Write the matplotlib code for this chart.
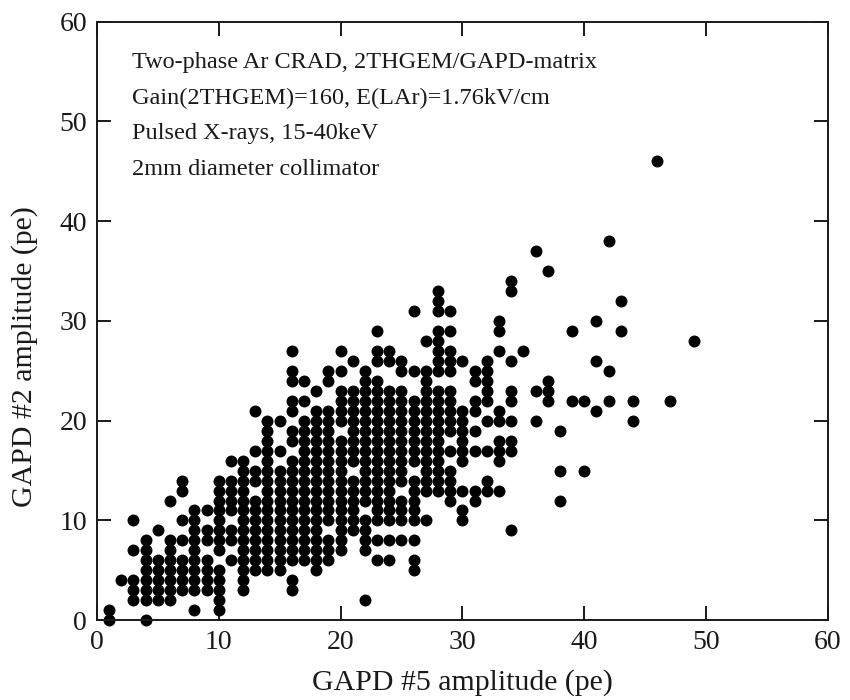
import numpy as np
import matplotlib
matplotlib.use("Agg")
from matplotlib import pyplot as plt

# GAPD #5 amplitude (x column) and the GAPD #2 amplitudes seen at that column
gapd5 = [1, 2, 3, 4, 5, 6, 7, 8, 9, 10,
         11, 12, 13, 14, 15, 16, 17, 18, 19, 20,
         21, 22, 23, 24, 25, 26, 27, 28, 29, 30,
         31, 32, 33, 34, 35, 36, 37, 38, 39, 40,
         41, 42, 43, 44, 46, 47, 49]

gapd2 = [
    [0, 1],
    [4],
    [2, 3, 4, 7, 10],
    [0, 2, 3, 4, 5, 6, 7, 8],
    [2, 3, 4, 5, 6, 9],
    [2, 3, 4, 5, 6, 7, 8, 12],
    [3, 4, 5, 6, 8, 10, 13, 14],
    [1, 3, 4, 5, 6, 7, 8, 9, 10, 11],
    [3, 4, 5, 6, 8, 9, 11],
    [1, 2, 3, 4, 5, 7, 8, 9, 10, 11, 12, 13, 14],
    [6, 8, 9, 11, 12, 13, 14, 16],
    [3, 4, 5, 6, 7, 8, 9, 10, 11, 12, 13, 14, 15, 16],
    [5, 6, 7, 8, 9, 10, 11, 12, 14, 15, 17, 21],
    [5, 6, 7, 8, 9, 10, 11, 12, 13, 14, 15, 16, 17, 18, 19, 20],
    [5, 6, 7, 8, 9, 10, 11, 12, 13, 14, 15, 17, 20],
    [3, 4, 6, 7, 8, 9, 10, 11, 12, 13, 14, 15, 16, 18, 19, 21, 22, 24, 25, 27],
    [6, 7, 8, 9, 10, 11, 12, 13, 14, 15, 16, 17, 18, 19, 20, 22, 24],
    [5, 6, 7, 8, 9, 10, 11, 12, 13, 14, 15, 16, 17, 18, 19, 20, 21, 23],
    [6, 7, 8, 10, 11, 12, 13, 14, 15, 16, 17, 18, 19, 20, 21, 24, 25],
    [7, 8, 9, 10, 11, 12, 13, 14, 15, 16, 17, 18, 20, 21, 22, 23, 25, 27],
    [9, 10, 11, 12, 13, 14, 16, 17, 18, 19, 20, 21, 22, 23, 26],
    [2, 7, 8, 9, 10, 12, 13, 14, 15, 16, 17, 18, 19, 20, 21, 22, 23, 24, 25],
    [6, 8, 10, 11, 12, 13, 14, 15, 16, 17, 18, 19, 20, 21, 22, 23, 24, 26, 27, 29],
    [6, 8, 10, 11, 12, 13, 14, 15, 16, 17, 18, 19, 20, 21, 22, 23, 26, 27],
    [8, 10, 11, 12, 14, 15, 16, 17, 18, 19, 20, 21, 22, 23, 25, 26],
    [5, 6, 8, 10, 11, 12, 13, 14, 16, 17, 18, 19, 20, 21, 22, 25, 31],
    [10, 13, 14, 15, 16, 17, 18, 19, 20, 21, 22, 23, 24, 25, 28],
    [13, 14, 15, 16, 17, 18, 19, 20, 21, 22, 23, 25, 26, 27, 28, 29, 31, 32, 33],
    [12, 13, 14, 15, 17, 19, 20, 21, 22, 23, 25, 26, 27, 29, 31],
    [10, 11, 13, 16, 17, 18, 19, 20, 21, 26],
    [12, 13, 17, 19, 21, 22, 24, 25],
    [13, 14, 17, 20, 22, 23, 24, 25, 26],
    [13, 16, 17, 18, 20, 21, 27, 29, 30],
    [9, 17, 18, 20, 22, 23, 26, 33, 34],
    [27],
    [20, 23, 37],
    [22, 23, 24, 35],
    [12, 15, 19],
    [22, 29],
    [15, 22],
    [21, 26, 30],
    [22, 25, 38],
    [29, 32],
    [20, 22],
    [46],
    [22],
    [28],
]

info_lines = ["Two-phase Ar CRAD, 2THGEM/GAPD-matrix",
              "Gain(2THGEM)=160, E(LAr)=1.76kV/cm",
              "Pulsed X-rays, 15-40keV",
              "2mm diameter collimator"]

plt.rcParams['font.family'] = ['Liberation Serif', 'DejaVu Serif']

xs = []
ys = []
for x, col in zip(gapd5, gapd2):
    for y in col:
        xs.append(x)
        ys.append(y)

fig = plt.figure(figsize=(8.5, 7), dpi=100)
ax = fig.add_axes([0.114, 0.114, 0.86, 0.855])

ax.plot(xs, ys, 'o', color='black', markersize=8.6, markeredgewidth=0, clip_on=False)

ax.set_xlim(0, 60)
ax.set_ylim(0, 60)
ax.set_xticks(np.arange(0, 61, 10))
ax.set_yticks(np.arange(0, 61, 10))
ax.tick_params(direction='in', length=10, width=1.4, top=True, right=True,
               labelsize=20, pad=7, colors='#1a1a1a')
for s in ax.spines.values():
    s.set_linewidth(1.4)
    s.set_color('#1a1a1a')

ax.set_xlabel("GAPD #5 amplitude (pe)", fontsize=21.5, color='#1a1a1a')
ax.set_ylabel("GAPD #2 amplitude (pe)", fontsize=21.5, color='#1a1a1a')
ax.xaxis.set_label_coords(0.5, -0.082)
ax.yaxis.set_label_coords(-0.08, 0.44)

line_y = [0.931, 0.872, 0.813, 0.753]
for txt, yy in zip(info_lines, line_y):
    ax.text(0.048, yy, txt, transform=ax.transAxes, fontsize=17.5,
            va='center', ha='left', color='#1a1a1a')

fig.savefig("out.png", dpi=100)
